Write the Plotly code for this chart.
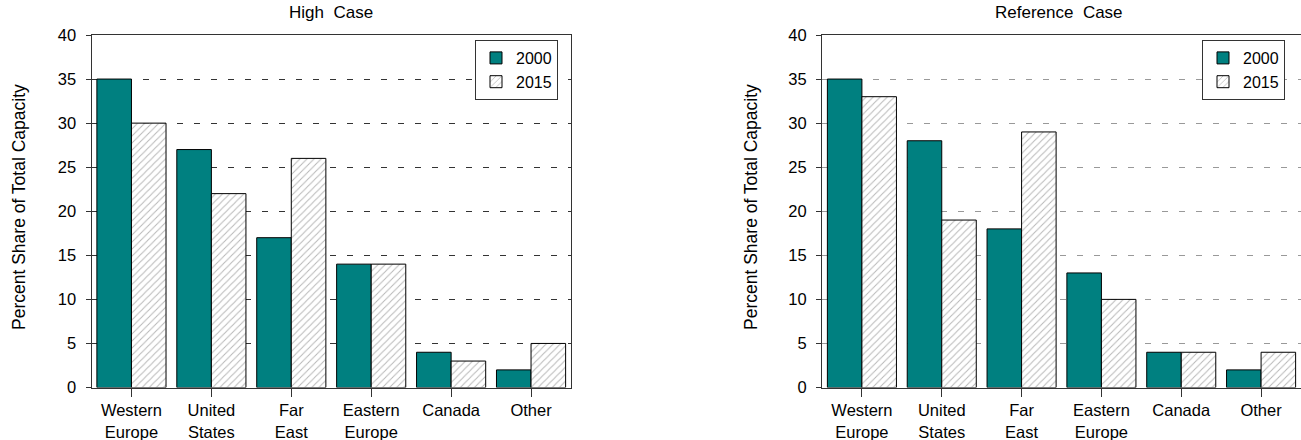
import plotly.graph_objects as go

categories = ["Western<br>Europe", "United<br>States", "Far<br>East", "Eastern<br>Europe", "Canada", "Other"]
high_2000 = [35, 27, 17, 14, 4, 2]
high_2015 = [30, 22, 26, 14, 3, 5]
ref_2000 = [35, 28, 18, 13, 4, 2]
ref_2015 = [33, 19, 29, 10, 4, 4]
years = ["2000", "2015"]
y_ticks = [0, 5, 10, 15, 20, 25, 30, 35, 40]

W, H = 1301, 440
TEAL = "#008080"
FONT = "Liberation Sans, Arial, sans-serif"
FS = 16.5

fig = go.Figure()

def add_pair(v2000, v2015, xa, ya, leg):
    fig.add_trace(go.Bar(x=categories, y=v2000, name=years[0], xaxis=xa, yaxis=ya,
                         marker=dict(color=TEAL, line=dict(color="black", width=1)),
                         legend=leg))
    fig.add_trace(go.Bar(x=categories, y=v2015, name=years[1], xaxis=xa, yaxis=ya,
                         marker=dict(color="white", line=dict(color="black", width=1),
                                     pattern=dict(shape="/", fgcolor="#707070", bgcolor="white",
                                                  size=5, solidity=0.2)),
                         legend=leg))

add_pair(high_2000, high_2015, "x", "y", "legend")
add_pair(ref_2000, ref_2015, "x2", "y2", "legend2")

def px_x(p):
    return p / W

def px_y(p):
    return 1 - p / H

xdom1 = [px_x(91.5), px_x(571)]
xdom2 = [px_x(822), 1.0]
ydom = [px_y(387.5), px_y(35)]

common_x = dict(type="category", range=[-0.5, 5.5], showline=True, linecolor="#333", linewidth=1,
                mirror=True, ticks="outside", ticklen=8, tickcolor="#333", automargin=False,
                tickfont=dict(family=FONT, size=FS, color="black"), showgrid=False, fixedrange=True)
common_y = dict(range=[0, 40], tickvals=y_ticks, showline=True, linecolor="#333", linewidth=1,
                mirror=True, ticks="outside", ticklen=5, tickcolor="#333", automargin=False,
                ticklabelstandoff=6,
                tickfont=dict(family=FONT, size=FS, color="black"), showgrid=True,
                griddash="6px,11px", zeroline=False, fixedrange=True)

legend_common = dict(xanchor="right", yanchor="top", bordercolor="#333", borderwidth=1,
                     bgcolor="white", font=dict(family=FONT, size=16), itemwidth=30,
                     tracegroupgap=0)

fig.update_layout(
    width=W, height=H,
    margin=dict(l=0, r=0, t=0, b=0),
    paper_bgcolor="white", plot_bgcolor="white",
    barmode="group", bargap=0.135, bargroupgap=0,
    font=dict(family=FONT, size=FS, color="black"),
    xaxis=dict(domain=xdom1, anchor="y", **common_x),
    yaxis=dict(domain=ydom, anchor="x", gridcolor="#333", **common_y),
    xaxis2=dict(domain=xdom2, anchor="y2", **common_x),
    yaxis2=dict(domain=ydom, anchor="x2", gridcolor="#999", **common_y),
    legend=dict(x=px_x(558), y=px_y(40), **legend_common),
    legend2=dict(x=px_x(1285), y=px_y(40), **legend_common),
    annotations=[
        dict(text="High  Case", x=(xdom1[0] + xdom1[1]) / 2, y=px_y(13), xref="paper", yref="paper",
             xanchor="center", yanchor="middle", showarrow=False, font=dict(family=FONT, size=17)),
        dict(text="Reference  Case", x=px_x(1059), y=px_y(13), xref="paper", yref="paper",
             xanchor="center", yanchor="middle", showarrow=False, font=dict(family=FONT, size=17)),
        dict(text="Percent Share of Total Capacity", x=px_x(19), y=px_y(207), xref="paper", yref="paper",
             xanchor="center", yanchor="middle", showarrow=False, textangle=-90,
             font=dict(family=FONT, size=17.5)),
        dict(text="Percent Share of Total Capacity", x=px_x(751), y=px_y(207), xref="paper", yref="paper",
             xanchor="center", yanchor="middle", showarrow=False, textangle=-90,
             font=dict(family=FONT, size=17.5)),
    ],
)

fig.write_html("out.html",
               config={"displayModeBar": False, "staticPlot": True},
               post_script="document.body.style.margin='0';document.body.style.overflow='hidden';")
